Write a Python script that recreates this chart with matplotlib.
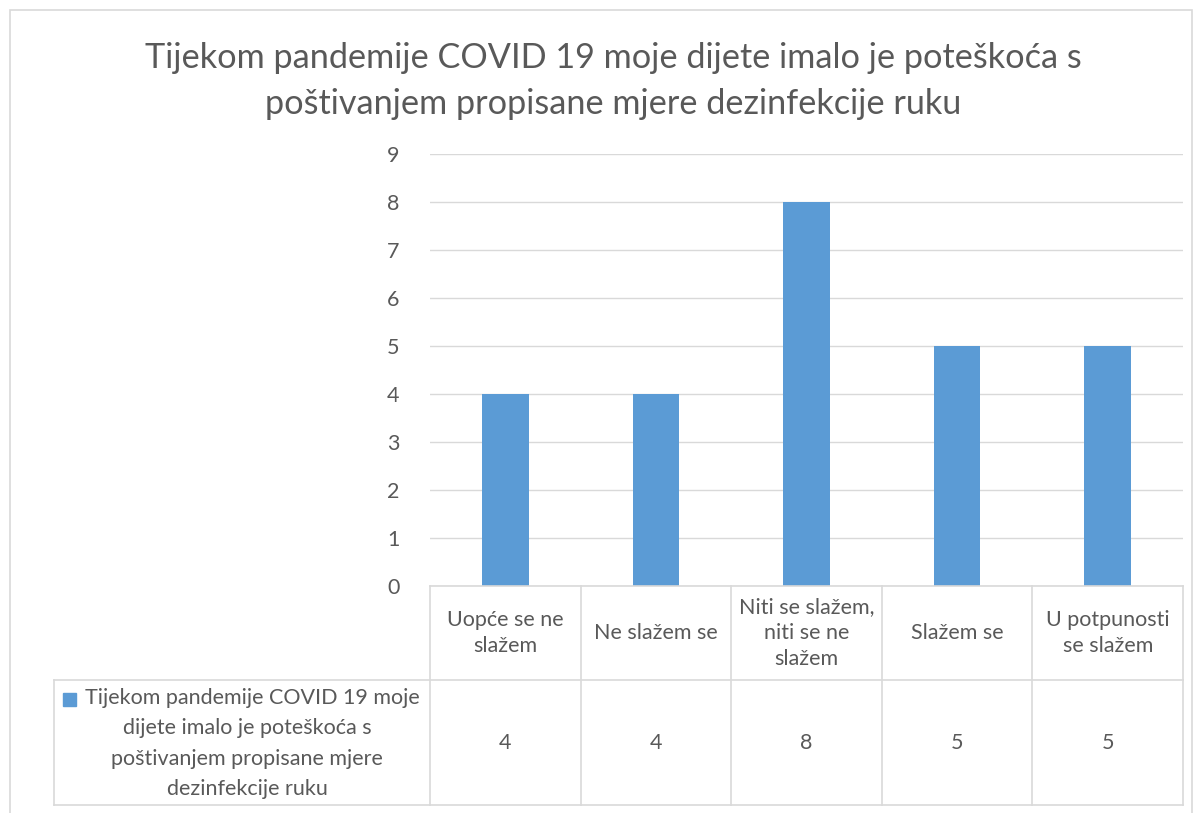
import matplotlib
matplotlib.use("Agg")
import matplotlib.pyplot as plt
from matplotlib.lines import Line2D
from matplotlib.patches import Rectangle

title = "Tijekom pandemije COVID 19 moje dijete imalo je poteškoća s\npoštivanjem propisane mjere dezinfekcije ruku"
categories = ["Uopće se ne\nslažem", "Ne slažem se", "Niti se slažem,\nniti se ne\nslažem", "Slažem se", "U potpunosti\nse slažem"]
values = [4, 4, 8, 5, 5]
series_name = "Tijekom pandemije COVID 19 moje\ndijete imalo je poteškoća s\npoštivanjem propisane mjere\ndezinfekcije ruku"
yticks = list(range(0, 10))

W, H = 1200, 813
BAR = "#5B9BD5"
GRID = "#D9D9D9"
TXT = "#595959"
FS = 15.5
plt.rcParams['font.family'] = ['Lato', 'DejaVu Sans']

fig = plt.figure(figsize=(W / 100, H / 100), dpi=100)

def fx(x):
    return x / W

def fy(y):
    return 1 - y / H

L, R, T, B = 430, 1183, 154, 586
ax = fig.add_axes([fx(L), fy(B), fx(R) - fx(L), fy(T) - fy(B)])
xs = list(range(len(categories)))
ax.bar(xs, values, width=0.31, color=BAR, zorder=3)
ax.set_xlim(-0.5, len(categories) - 0.5)
ax.set_ylim(0, 9)
ax.set_yticks(yticks)
ax.set_yticklabels([str(v) for v in yticks], fontsize=FS, color=TXT)
ax.tick_params(axis='y', length=0, pad=22)
ax.set_xticks([])
ax.grid(axis='y', color=GRID, linewidth=1, zorder=0)
for s in ax.spines.values():
    s.set_visible(False)

# Title
fig.text(fx(613), fy(81), title, ha='center', va='center', fontsize=24.7, color=TXT, linespacing=1.5)

# Outer chart border
fig.add_artist(Rectangle((fx(10), fy(830)), fx(1192) - fx(10), fy(10) - fy(830),
                         transform=fig.transFigure, fill=False, edgecolor=GRID, linewidth=1.2))

def hline(y, x0, x1):
    fig.add_artist(Line2D([fx(x0), fx(x1)], [fy(y), fy(y)], transform=fig.transFigure, color=GRID, linewidth=1.2))

def vline(x, y0, y1):
    fig.add_artist(Line2D([fx(x), fx(x)], [fy(y0), fy(y1)], transform=fig.transFigure, color=GRID, linewidth=1.2))

row1, row2 = 680, 805
hline(B, L, R)
hline(row1, 54, R)
hline(row2, 54, R)
vline(54, row1, row2)
colw = (R - L) / len(categories)
for i in range(len(categories) + 1):
    vline(L + i * colw, B, row2)

for i, (c, v) in enumerate(zip(categories, values)):
    cx = L + (i + 0.5) * colw
    fig.text(fx(cx), fy((B + row1) / 2), c, ha='center', va='center', fontsize=FS, color=TXT, linespacing=1.4)
    fig.text(fx(cx), fy((row1 + row2) / 2), str(v), ha='center', va='center', fontsize=FS, color=TXT)

# Legend cell: key square and series name, one line at a time
fig.add_artist(Rectangle((fx(63), fy(706)), fx(76) - fx(63), fy(693) - fy(706),
                         transform=fig.transFigure, color=BAR))
leg_lines = series_name.split("\n")
leg_y = [698, 728, 759, 789]
leg_x = [252, 247, 247, 247]
for t, yy, xx in zip(leg_lines, leg_y, leg_x):
    fig.text(fx(xx), fy(yy), t, ha='center', va='center', fontsize=FS, color=TXT)

fig.savefig("out.png", dpi=100, facecolor="white")
